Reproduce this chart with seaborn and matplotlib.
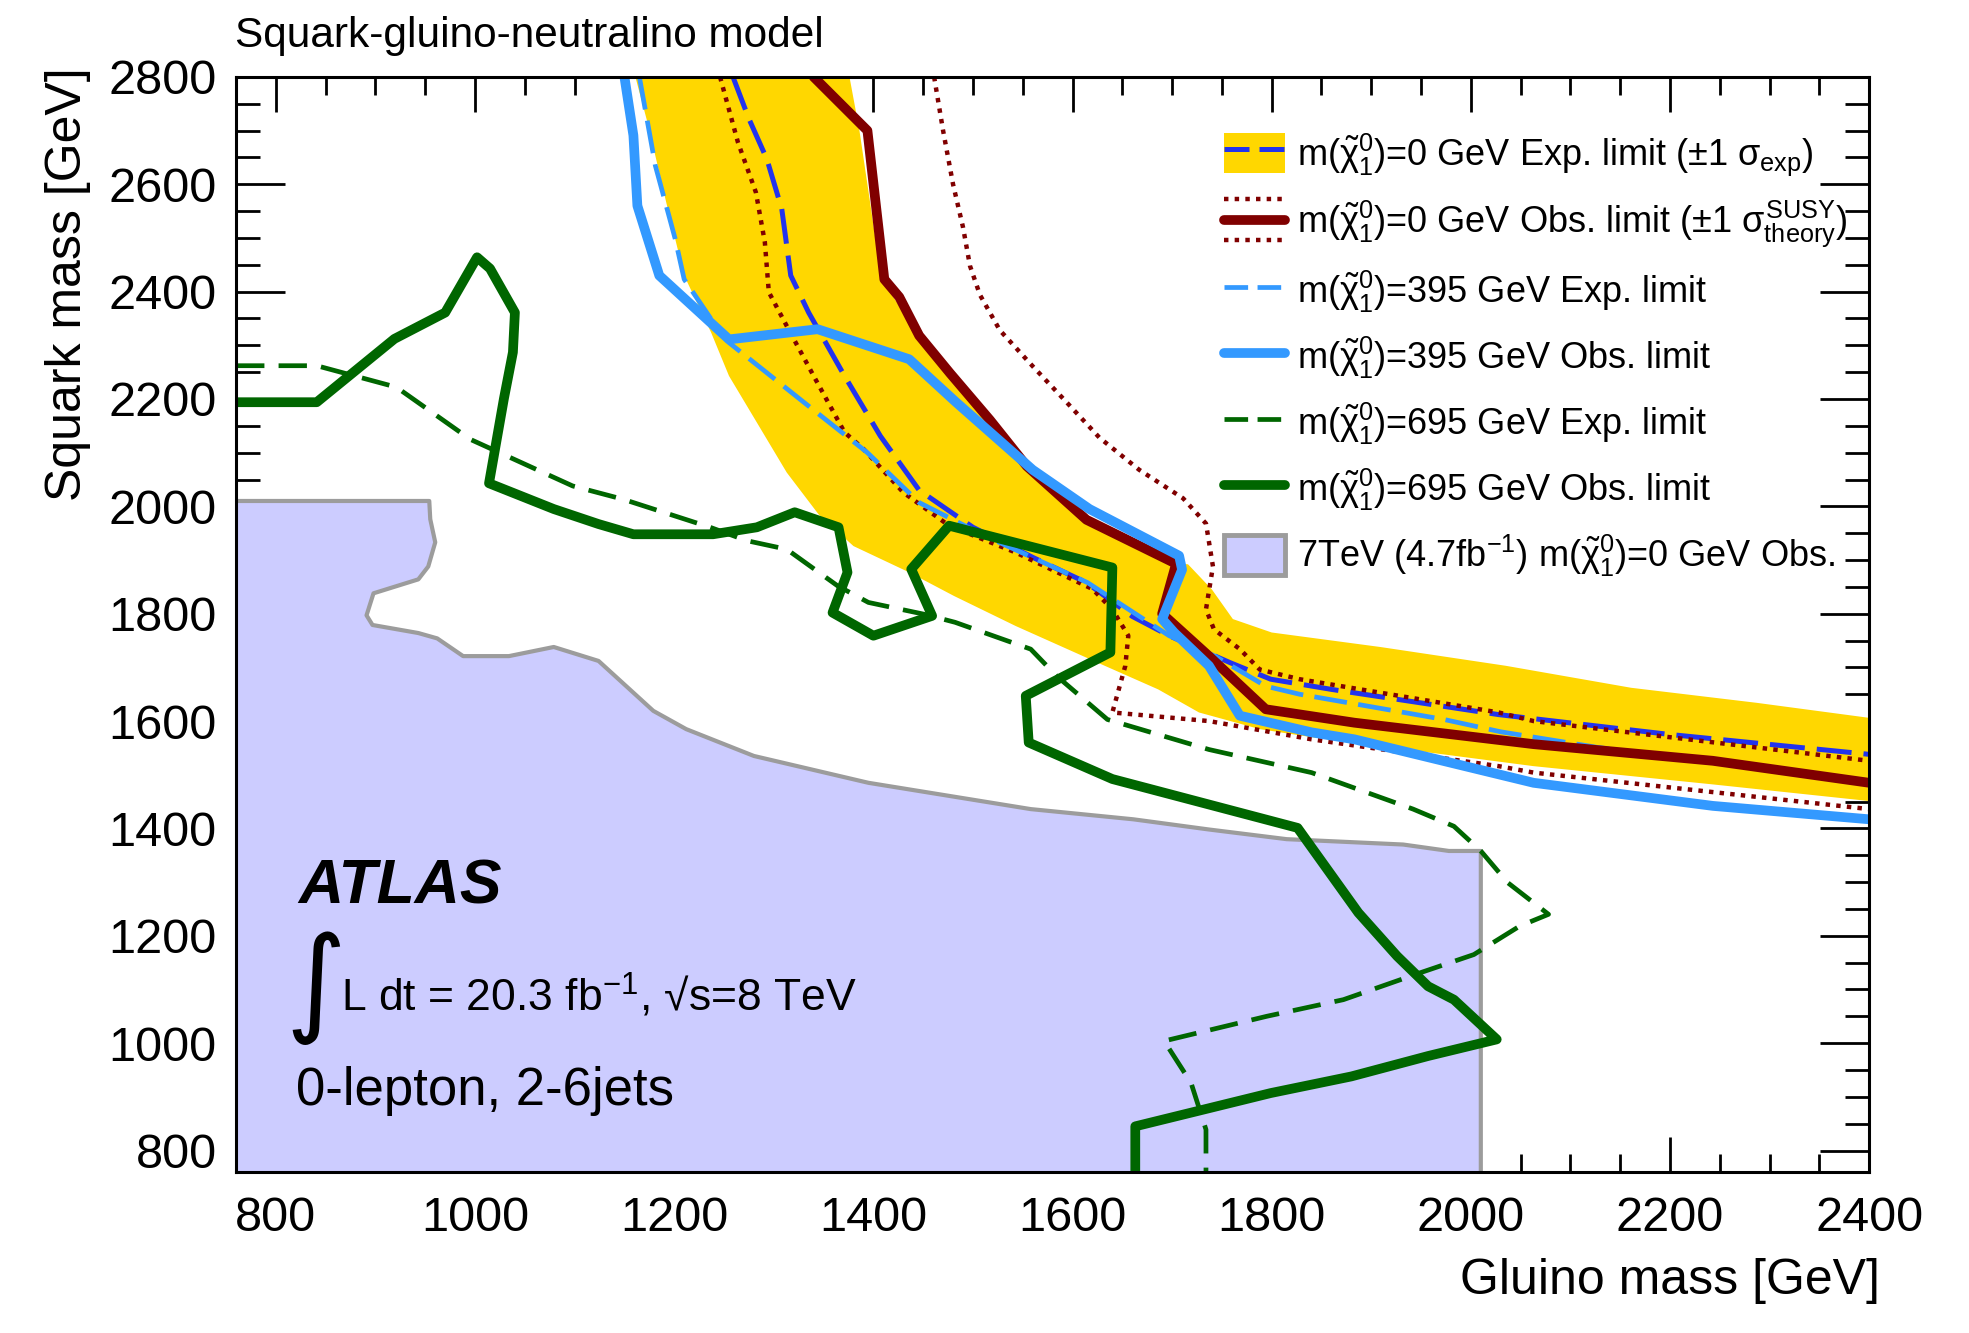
import numpy as np
import matplotlib
matplotlib.use("Agg")
import matplotlib.pyplot as plt
import seaborn as sns
from matplotlib.lines import Line2D
from matplotlib.patches import Patch
from matplotlib.legend_handler import HandlerBase, HandlerTuple
from matplotlib.ticker import MultipleLocator

# ---- data (gluino mass, squark mass) in GeV ----
band_upper_g = [1376, 1386, 1398, 1408, 1440, 1477, 1517, 1554, 1614, 1700, 1716, 1740, 1761, 1800, 1909, 2035, 2161, 2287, 2400]
band_upper_s = [2800, 2700, 2550, 2423, 2335, 2248, 2161, 2075, 1975, 1895, 1892, 1845, 1790, 1765, 1738, 1703, 1662, 1634, 1606]
band_lower_g = [1161, 1174, 1192, 1210, 1237, 1255, 1313, 1345, 1380, 1436, 1481, 1543, 1625, 1686, 1727, 1788, 1840, 2063, 2243, 2400]
band_lower_s = [2800, 2709, 2566, 2430, 2324, 2243, 2063, 1985, 1926, 1877, 1833, 1777, 1709, 1659, 1616, 1585, 1570, 1516, 1482, 1451]

exp0_g = [1259, 1275, 1293, 1308, 1317, 1335, 1371, 1407, 1446, 1500, 1560, 1614, 1660, 1697, 1758, 1799, 1860, 2028, 2200, 2400]
exp0_s = [2800, 2722, 2647, 2554, 2430, 2361, 2243, 2131, 2030, 1961, 1905, 1858, 1795, 1759, 1709, 1678, 1659, 1612, 1575, 1538]

obs0_minus_g = [1246, 1264, 1282, 1291, 1295, 1313, 1340, 1371, 1390, 1430, 1476, 1543, 1620, 1640, 1656, 1653, 1640, 1737, 1840, 2028, 2063, 2400]
obs0_minus_s = [2800, 2678, 2585, 2492, 2399, 2336, 2243, 2138, 2107, 2026, 1964, 1914, 1846, 1808, 1759, 1703, 1616, 1600, 1566, 1516, 1504, 1436]
obs0_plus_g = [1461, 1470, 1480, 1490, 1497, 1507, 1527, 1560, 1594, 1627, 1667, 1711, 1734, 1741, 1734, 1742, 1768, 1788, 1828, 2028, 2063, 2400]
obs0_plus_s = [2800, 2700, 2600, 2520, 2448, 2394, 2328, 2261, 2194, 2128, 2068, 2015, 1968, 1888, 1808, 1771, 1734, 1696, 1678, 1616, 1600, 1526]

obs0_g = [1340, 1394, 1411, 1426, 1446, 1477, 1517, 1554, 1614, 1704, 1690, 1737, 1794, 1883, 2063, 2243, 2400]
obs0_s = [2800, 2700, 2423, 2390, 2318, 2248, 2161, 2075, 1975, 1893, 1800, 1721, 1622, 1597, 1557, 1526, 1485]

exp395_g = [1165, 1181, 1201, 1210, 1237, 1255, 1326, 1394, 1446, 1512, 1615, 1697, 1743, 1794, 1828, 1973, 2030, 2127, 2400]
exp395_s = [2800, 2635, 2498, 2423, 2349, 2305, 2200, 2100, 2007, 1945, 1858, 1759, 1721, 1665, 1650, 1603, 1580, 1551, 1487]

obs395_g = [1150, 1159, 1163, 1185, 1255, 1344, 1436, 1483, 1527, 1560, 1617, 1707, 1710, 1690, 1702, 1737, 1768, 1840, 1883, 2063, 2243, 2400]
obs395_s = [2800, 2691, 2560, 2430, 2311, 2330, 2274, 2194, 2122, 2068, 1995, 1908, 1882, 1790, 1765, 1703, 1610, 1579, 1566, 1485, 1442, 1417]

exp695_g = [760, 841, 879, 921, 995, 1098, 1149, 1236, 1273, 1313, 1364, 1395, 1451, 1482, 1558, 1584, 1635, 1737, 1840,
            1942, 1983, 2010, 2037, 2078, 2049, 2003, 1949, 1872, 1795, 1692, 1719, 1734, 1734]
exp695_s = [2262, 2262, 2243, 2222, 2125, 2038, 2013, 1961, 1936, 1920, 1852, 1821, 1799, 1784, 1734, 1684, 1603, 1547, 1504,
            1436, 1404, 1358, 1299, 1240, 1218, 1165, 1131, 1081, 1050, 1004, 926, 839, 760]

obs695_g = [760, 841, 919, 970, 1002, 1015, 1040, 1038, 1029, 1014, 1079, 1124, 1159, 1239, 1283, 1321, 1365, 1374, 1359, 1400,
            1459, 1438, 1476, 1640, 1638, 1553, 1556, 1640, 1826, 1887, 1926, 1957, 1983, 2026, 1957, 1880, 1799, 1663, 1663]
obs695_s = [2194, 2194, 2312, 2361, 2464, 2443, 2361, 2287, 2201, 2043, 1995, 1967, 1948, 1948, 1961, 1989, 1961, 1877, 1802, 1759,
            1796, 1883, 1964, 1886, 1728, 1647, 1560, 1492, 1401, 1243, 1162, 1106, 1081, 1007, 976, 938, 907, 845, 760]

tev7_g = [760, 760, 954, 955, 960, 953, 943, 898, 891, 897, 943, 962, 988, 1034, 1079, 1124, 1179, 1212, 1280, 1395, 1558,
          1661, 1737, 1815, 1932, 1978, 2010, 2010]
tev7_s = [760, 2010, 2010, 1976, 1933, 1888, 1864, 1838, 1797, 1779, 1764, 1754, 1721, 1721, 1738, 1712, 1619, 1585, 1535, 1485, 1436,
          1417, 1398, 1380, 1370, 1358, 1358, 760]

x_ticks = [800, 1000, 1200, 1400, 1600, 1800, 2000, 2200, 2400]
y_ticks = [800, 1000, 1200, 1400, 1600, 1800, 2000, 2200, 2400, 2600, 2800]

labels = [
    r"m($\tilde{\chi}_{1}^{0}$)=0 GeV Exp. limit (±1 $\sigma_{\rm exp}$)",
    r"m($\tilde{\chi}_{1}^{0}$)=0 GeV Obs. limit (±1 $\sigma^{\rm SUSY}_{\rm theory}$)",
    r"m($\tilde{\chi}_{1}^{0}$)=395 GeV Exp. limit",
    r"m($\tilde{\chi}_{1}^{0}$)=395 GeV Obs. limit",
    r"m($\tilde{\chi}_{1}^{0}$)=695 GeV Exp. limit",
    r"m($\tilde{\chi}_{1}^{0}$)=695 GeV Obs. limit",
    r"7TeV (4.7fb$^{-1}$) m($\tilde{\chi}_{1}^{0}$)=0 GeV Obs.",
]

GOLD = "#ffd700"
LAV = "#ccccff"
GRAY = "#9c9c9c"
DRED = "#800000"
BLUE = "#2233ee"
LBLUE = "#3399ff"
GREEN = "#006600"

DASH = (0, (7, 2.4))
DOT = (0, (1, 1.4))

sns.set_style("ticks")
plt.rcParams["font.family"] = ["Liberation Sans", "DejaVu Sans"]
plt.rcParams["mathtext.fontset"] = "custom"
plt.rcParams["mathtext.rm"] = "Liberation Sans"
plt.rcParams["mathtext.it"] = "Liberation Sans"
plt.rcParams["mathtext.bf"] = "Liberation Sans:bold"
for key in ["text.color", "axes.labelcolor", "xtick.color", "ytick.color", "axes.edgecolor"]:
    plt.rcParams[key] = "black"

fig = plt.figure(figsize=(19.69, 13.33), dpi=100)
ax = fig.add_axes([0.1199, 0.1208, 0.8294, 0.8215])


def draw(g, s, **kw):
    sns.lineplot(x=g, y=s, sort=False, estimator=None, ax=ax, legend=False, **kw)


# 7 TeV excluded region
ax.fill(tev7_g, tev7_s, color=LAV, lw=0, zorder=1)
draw(tev7_g[1:], tev7_s[1:], color=GRAY, lw=3, zorder=2)

# expected +-1 sigma band
ax.fill(np.concatenate([band_upper_g, band_lower_g[::-1]]),
        np.concatenate([band_upper_s, band_lower_s[::-1]]), color=GOLD, lw=0, zorder=3)

draw(exp0_g, exp0_s, color=BLUE, lw=3.6, linestyle=DASH, zorder=4)
draw(obs0_minus_g, obs0_minus_s, color=DRED, lw=3.2, linestyle=DOT, zorder=5)
draw(obs0_plus_g, obs0_plus_s, color=DRED, lw=3.2, linestyle=DOT, zorder=5)
draw(exp395_g, exp395_s, color=LBLUE, lw=3.4, linestyle=DASH, zorder=6)
draw(obs0_g, obs0_s, color=DRED, lw=7, zorder=7)
draw(obs395_g, obs395_s, color=LBLUE, lw=7, zorder=8)
draw(exp695_g, exp695_s, color=GREEN, lw=3.4, linestyle=(0, (6, 3)), zorder=9)
draw(obs695_g, obs695_s, color=GREEN, lw=7, zorder=10)

ax.set_xlim(760, 2400)
ax.set_ylim(760, 2800)
ax.set_xticks(x_ticks)
ax.set_yticks(y_ticks)
ax.xaxis.set_minor_locator(MultipleLocator(50))
ax.yaxis.set_minor_locator(MultipleLocator(50))
ax.tick_params(axis="both", which="both", direction="in", top=True, right=True, width=2, labelsize=35, color="black")
ax.tick_params(axis="x", which="major", length=25, pad=17)
ax.tick_params(axis="x", which="minor", length=13)
ax.tick_params(axis="y", which="major", length=35, pad=14)
ax.tick_params(axis="y", which="minor", length=17.5)
for sp in ax.spines.values():
    sp.set_linewidth(2.2)
    sp.set_color("black")
    sp.set_zorder(20)

ax.set_xlabel("Gluino mass [GeV]", fontsize=36, loc="right")
ax.xaxis.set_label_coords(1.0067, -0.079)
ax.set_ylabel("Squark mass [GeV]", fontsize=36, loc="top")
ax.yaxis.set_label_coords(-0.089, 1.009)


class HandlerBand(HandlerBase):
    # solid line with two dotted lines above and below
    def create_artists(self, legend, orig_handle, xdescent, ydescent, width, height, fontsize, trans):
        xs = [-xdescent, -xdescent + width]
        mid = -ydescent + height / 2
        out = []
        for y, ls, lw in [(mid, "-", 7), (mid + height / 2, DOT, 3.2), (mid - height / 2, DOT, 3.2)]:
            ln = Line2D(xs, [y, y], color=orig_handle.get_color(), lw=lw, linestyle=ls)
            ln.set_transform(trans)
            out.append(ln)
        return out


h_band = (Patch(facecolor=GOLD, edgecolor="none"), Line2D([], [], color=BLUE, lw=3.6, linestyle=(0, (5, 2))))
h_obs0 = Line2D([], [], color=DRED, lw=7)
handles = [
    h_band,
    h_obs0,
    Line2D([], [], color=LBLUE, lw=3.4, linestyle=(0, (5, 2))),
    Line2D([], [], color=LBLUE, lw=7),
    Line2D([], [], color=GREEN, lw=3.4, linestyle=(0, (5, 2))),
    Line2D([], [], color=GREEN, lw=7),
    Patch(facecolor=LAV, edgecolor=GRAY, lw=3.5),
]
leg = ax.legend(handles, labels, handler_map={tuple: HandlerTuple(ndivide=1, pad=0), h_obs0: HandlerBand()},
                loc="upper left", bbox_to_anchor=(0.605, 0.950), frameon=False, fontsize=26,
                handlelength=1.7, handleheight=1.35, handletextpad=0.33, labelspacing=0.55,
                borderpad=0, borderaxespad=0)
leg.set_zorder(30)

W, H = 1969, 1333
fig.text(235 / W, 1 - 47 / H, "Squark-gluino-neutralino model", fontsize=30.5, va="baseline", ha="left")
fig.text(298 / W, 1 - 904 / H, "ATLAS", fontsize=45, weight="bold", style="italic", va="baseline", zorder=40)
fig.text(285 / W, 1 - 1020 / H, "\u222b", fontsize=84, family="DejaVu Sans", va="baseline", zorder=40)
fig.text(341 / W, 1 - 1011 / H, "L dt = 20.3 fb$^{-1}$, \u221as=8 TeV", fontsize=32, va="baseline", zorder=40)
fig.text(296 / W, 1 - 1105 / H, "0-lepton, 2-6jets", fontsize=38, va="baseline", zorder=40)

fig.savefig("out.png", dpi=100)
